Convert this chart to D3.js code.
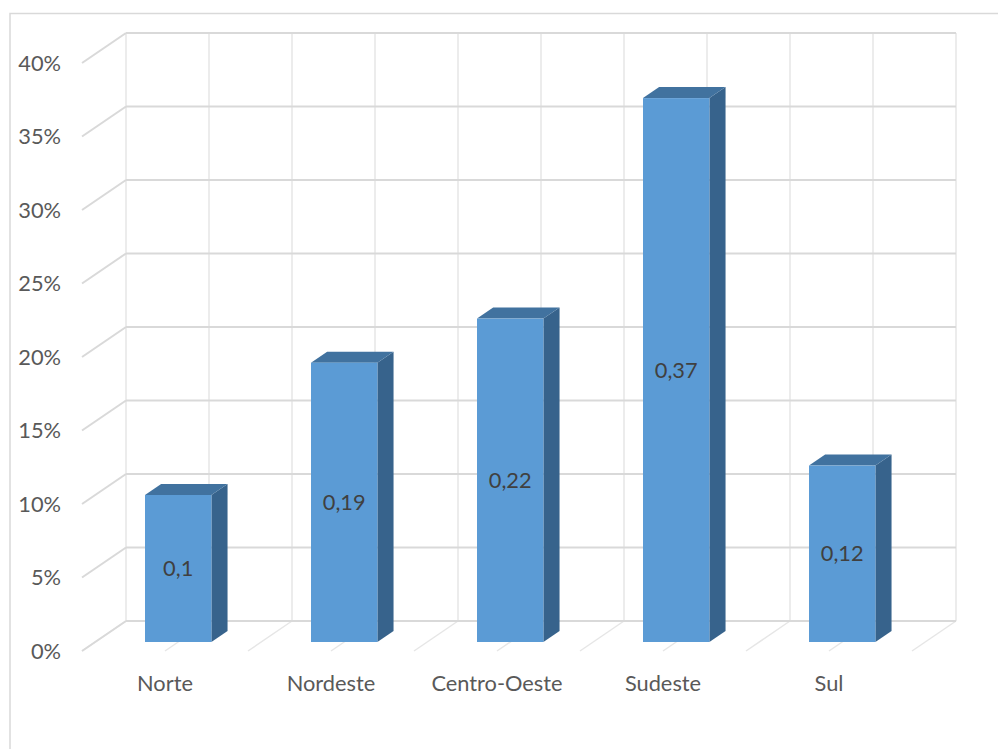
<!DOCTYPE html>
<html>
<head>
<meta charset="utf-8">
<script src="https://cdn.jsdelivr.net/npm/d3@7"></script>
<style>
  html, body { margin: 0; padding: 0; background: #ffffff; }
  svg { display: block; }
  text { font-family: Lato, "Open Sans", sans-serif; }
</style>
</head>
<body>
<div id="chart"></div>
<script>
// Share by region
const categories = ["Norte", "Nordeste", "Centro-Oeste", "Sudeste", "Sul"];
const values = [0.1, 0.19, 0.22, 0.37, 0.12];
const valueLabels = ["0,1", "0,19", "0,22", "0,37", "0,12"];
const tickValues = [0, 0.05, 0.1, 0.15, 0.2, 0.25, 0.3, 0.35, 0.4];
const tickLabels = ["0%", "5%", "10%", "15%", "20%", "25%", "30%", "35%", "40%"];

const W = 998, H = 749;
const FONT = 21.8;
const svg = d3.select("#chart").append("svg")
  .attr("width", W).attr("height", H);

// chart area frame
svg.append("rect")
  .attr("x", 10).attr("y", 13.5)
  .attr("width", 1000).attr("height", 760)
  .attr("fill", "#ffffff")
  .attr("stroke", "#d9d9d9").attr("stroke-width", 1.5);

// front plane scales (depth = 0)
const y = d3.scaleLinear().domain([0, 0.4]).range([651, 63]);
const x = d3.scaleBand().domain(categories).range([82, 912]).paddingInner(0).paddingOuter(0);
const xGrid = d3.scaleLinear().domain([0, 10]).range([82, 912]);

// oblique depth offset for depth d in [0, 1]
const DX = 44, DY = -30;
const proj = (px, py, d) => [px + DX * d, py + DY * d];

const g = svg.append("g");

// back wall vertical gridlines
d3.range(0, 11).forEach(i => {
  const [x0, y0] = proj(xGrid(i), y(0), 1);
  const [, y1] = proj(xGrid(i), y(0.4), 1);
  g.append("line")
    .attr("x1", x0).attr("x2", x0).attr("y1", y0).attr("y2", y1)
    .attr("stroke", "#e6e6e6").attr("stroke-width", 1.5);
});

// floor gridlines
d3.range(0, 11).forEach(i => {
  const [bx, by] = proj(xGrid(i), y(0), 1);
  const [fx, fy] = proj(xGrid(i), y(0), 0);
  g.append("line")
    .attr("x1", bx).attr("y1", by).attr("x2", fx).attr("y2", fy)
    .attr("stroke", "#e6e6e6").attr("stroke-width", 1.5);
});

// horizontal gridlines on back and side walls
tickValues.forEach(v => {
  const [bx0, by] = proj(xGrid(0), y(v), 1);
  const [bx1] = proj(xGrid(10), y(v), 1);
  g.append("line")
    .attr("x1", bx0).attr("x2", bx1).attr("y1", by).attr("y2", by)
    .attr("stroke", "#d9d9d9").attr("stroke-width", 2);
  g.append("line")
    .attr("x1", xGrid(0)).attr("y1", y(v)).attr("x2", bx0).attr("y2", by)
    .attr("stroke", "#d9d9d9").attr("stroke-width", 2);
});

// value axis labels
svg.append("g").selectAll("text")
  .data(tickValues)
  .join("text")
  .attr("x", 61)
  .attr("y", d => y(d))
  .attr("dy", "0.35em")
  .attr("text-anchor", "end")
  .attr("font-size", FONT)
  .attr("fill", "#595959")
  .text((d, i) => tickLabels[i]);

// category labels
svg.append("g").selectAll("text")
  .data(categories)
  .join("text")
  .attr("x", d => x(d) + x.bandwidth() / 2)
  .attr("y", 683)
  .attr("dy", "0.35em")
  .attr("text-anchor", "middle")
  .attr("font-size", FONT)
  .attr("fill", "#595959")
  .text(d => d);

// 3D columns
const D0 = 0.3, D1 = 0.667;
const barW = x.bandwidth() * 0.4;
const bars = svg.append("g").selectAll("g")
  .data(categories.map((c, i) => ({ c, v: values[i], label: valueLabels[i] })))
  .join("g");

bars.each(function (d) {
  const sel = d3.select(this);
  const cx = x(d.c) + x.bandwidth() / 2;
  const xl = cx - barW / 2, xr = cx + barW / 2;
  const [fl, fb] = proj(xl, y(0), D0);
  const [fr] = proj(xr, y(0), D0);
  const [, ft] = proj(xl, y(d.v), D0);
  const ddx = DX * (D1 - D0), ddy = DY * (D1 - D0);
  const pts = a => a.map(p => p.join(",")).join(" ");
  // right side face
  sel.append("polygon")
    .attr("points", pts([[fr, fb], [fr + ddx, fb + ddy], [fr + ddx, ft + ddy], [fr, ft]]))
    .attr("fill", "#37638c");
  // top face
  sel.append("polygon")
    .attr("points", pts([[fl, ft], [fl + ddx, ft + ddy], [fr + ddx, ft + ddy], [fr, ft]]))
    .attr("fill", "#41729f");
  // front face
  sel.append("rect")
    .attr("x", fl).attr("y", ft)
    .attr("width", fr - fl).attr("height", fb - ft)
    .attr("fill", "#5b9bd5");
  // value label
  sel.append("text")
    .attr("x", (fl + fr) / 2)
    .attr("y", (ft + fb) / 2)
    .attr("dy", "0.35em")
    .attr("text-anchor", "middle")
    .attr("font-size", FONT)
    .attr("fill", "#404040")
    .text(d.label);
});
</script>
</body>
</html>
